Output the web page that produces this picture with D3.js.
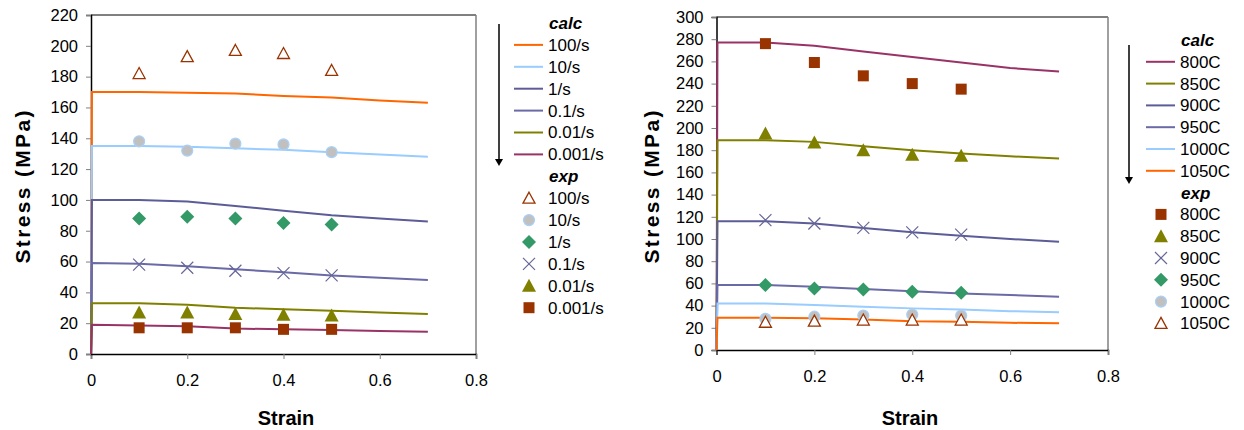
<!DOCTYPE html>
<html>
<head>
<meta charset="utf-8">
<script src="https://cdn.jsdelivr.net/npm/d3@7"></script>
<style>
  body { margin: 0; background: #fff; }
  text { font-family: "Liberation Sans", Arial, sans-serif; }
</style>
</head>
<body>
<div id="chart"></div>
<script>
// strain points for calc curves and experiments
var calcStrain = [0, 0.002, 0.1, 0.2, 0.3, 0.4, 0.5, 0.6, 0.7];
var expStrain = [0.1, 0.2, 0.3, 0.4, 0.5];

// left chart: strain rates
var rateNames = ["100/s", "10/s", "1/s", "0.1/s", "0.01/s", "0.001/s"];
var rateCalc = [
  [0, 170, 170, 169.5, 169, 167.5, 166.5, 164.5, 163],
  [0, 135, 135, 134.5, 133.5, 132.5, 131, 129.5, 128],
  [0, 100, 100, 99, 96, 93, 90, 88, 86],
  [0, 59, 58.5, 57, 55, 53, 51, 49.5, 48],
  [0, 33, 33, 32, 30, 29, 28, 27, 26],
  [0, 19, 18.5, 18, 16.5, 16, 15.5, 15, 14.5]
];
var rateExp = [
  [182, 193, 197, 195, 184],
  [138, 132, 136.5, 136, 131],
  [88, 89, 88, 85, 84],
  [58, 56, 54, 52.5, 51],
  [27, 27, 26, 25.5, 25],
  [17, 17, 17, 16, 16]
];

// right chart: temperatures
var tempNames = ["800C", "850C", "900C", "950C", "1000C", "1050C"];
var tempCalc = [
  [0, 277, 277, 274, 269, 264, 259, 254, 251],
  [0, 189, 189, 187.5, 183.5, 180, 177, 174.5, 172.5],
  [0, 116, 116, 114, 110, 106, 103, 100, 97.5],
  [0, 58.5, 58.5, 57, 55, 53, 51, 49.5, 48],
  [0, 42, 42, 40.5, 39, 37.5, 36.5, 35, 34],
  [0, 29, 29, 28.5, 27.5, 26, 25.5, 24.5, 24]
];
var tempExp = [
  [276, 259, 247, 240, 235],
  [195, 187, 180, 176, 175],
  [117, 114, 110, 106, 104],
  [58.5, 55.5, 54.5, 52.5, 51.5],
  [28, 30, 31, 32, 31],
  [25, 26, 27, 27, 27]
];

var xTicks = [0, 0.2, 0.4, 0.6, 0.8];
var leftYTicks = d3.range(0, 221, 20);
var rightYTicks = d3.range(0, 301, 20);

var svg = d3.select("#chart").append("svg")
  .attr("width", 1244)
  .attr("height", 430);

function drawChart(opt) {
  var x = d3.scaleLinear().domain([0, 0.8]).range([opt.left, opt.right]);
  var y = d3.scaleLinear().domain([0, opt.yMax]).range([opt.bottom, opt.top]);
  var g = svg.append("g");

  // plot frame: top black, right gray
  g.append("line").attr("x1", opt.left).attr("x2", opt.right)
    .attr("y1", opt.top).attr("y2", opt.top)
    .attr("stroke", "#000").attr("stroke-width", 1);
  g.append("line").attr("x1", opt.right).attr("x2", opt.right)
    .attr("y1", opt.top).attr("y2", opt.bottom)
    .attr("stroke", "#808080").attr("stroke-width", 1.5);

  var xAxis = g.append("g")
    .attr("transform", "translate(0," + opt.bottom + ")")
    .call(d3.axisBottom(x).tickValues(xTicks).tickSize(5).tickPadding(15)
      .tickFormat(function(d) { return d === 0 ? "0" : d3.format(".1f")(d); }));
  var yAxis = g.append("g")
    .attr("transform", "translate(" + opt.left + ",0)")
    .call(d3.axisLeft(y).tickValues(opt.yTicks).tickSize(5).tickPadding(8));
  [xAxis, yAxis].forEach(function(a) {
    a.select(".domain").attr("stroke", "#000").attr("stroke-width", 1.5);
    a.selectAll(".tick line").attr("stroke", "#808080");
    a.selectAll("text").style("font-size", "16.5px").attr("fill", "#000")
      .style("font-family", "Liberation Sans, Arial, sans-serif");
  });

  var line = d3.line()
    .x(function(d, i) { return x(calcStrain[i]); })
    .y(function(d) { return y(d); });

  opt.calc.forEach(function(vals, i) {
    g.append("path").datum(vals)
      .attr("d", line)
      .attr("fill", "none")
      .attr("stroke", opt.lineColors[i])
      .attr("stroke-width", 2);
  });

  opt.exp.forEach(function(vals, i) {
    g.selectAll(null).data(vals).enter().append("g")
      .attr("transform", function(d, j) { return "translate(" + x(expStrain[j]) + "," + y(d) + ")"; })
      .each(function() { drawMarker(d3.select(this), opt.markers[i]); });
  });

  // axis titles
  g.append("text")
    .attr("transform", "translate(" + opt.titleX + ",187) rotate(-90)")
    .attr("text-anchor", "middle")
    .attr("dy", "0.35em")
    .attr("textLength", 153)
    .attr("lengthAdjust", "spacing")
    .style("font-size", "21px").style("font-weight", "bold")
    .text("Stress (MPa)");
  g.append("text")
    .attr("x", opt.strainX)
    .attr("y", 418)
    .attr("text-anchor", "middle")
    .attr("dy", "0.35em")
    .style("font-size", "20px").style("font-weight", "bold")
    .text("Strain");

  // legend
  var lg = svg.append("g");
  var lx = opt.legendX, ly = opt.legendY, step = opt.legendStep;
  lg.append("line")
    .attr("x1", opt.arrowX).attr("x2", opt.arrowX)
    .attr("y1", opt.arrowTop).attr("y2", opt.arrowBottom - 6)
    .attr("stroke", "#000").attr("stroke-width", 1.5);
  lg.append("path")
    .attr("d", "M" + (opt.arrowX - 4) + "," + (opt.arrowBottom - 7) + "L" + (opt.arrowX + 4) + "," + (opt.arrowBottom - 7) + "L" + opt.arrowX + "," + opt.arrowBottom + "Z")
    .attr("fill", "#000");

  lg.append("text").attr("x", lx + 1).attr("y", ly).attr("dy", "0.35em")
    .style("font-size", "17px").style("font-weight", "bold").style("font-style", "italic")
    .text("calc");
  opt.names.forEach(function(n, i) {
    var yy = ly + step * (i + 1);
    lg.append("line").attr("x1", lx - 34).attr("x2", lx - 5)
      .attr("y1", yy).attr("y2", yy)
      .attr("stroke", opt.lineColors[i]).attr("stroke-width", 2);
    lg.append("text").attr("x", lx).attr("y", yy).attr("dy", "0.35em")
      .style("font-size", "17px").text(n);
  });
  var ey = ly + step * 7;
  lg.append("text").attr("x", lx + 1).attr("y", ey).attr("dy", "0.35em")
    .style("font-size", "17px").style("font-weight", "bold").style("font-style", "italic")
    .text("exp");
  opt.names.forEach(function(n, i) {
    var yy = ey + step * (i + 1);
    var mg = lg.append("g").attr("transform", "translate(" + (lx - 19) + "," + yy + ")");
    drawMarker(mg, opt.markers[i]);
    lg.append("text").attr("x", lx).attr("y", yy).attr("dy", "0.35em")
      .style("font-size", "17px").text(n);
  });
}

function drawMarker(sel, type) {
  if (type === "triOpen") {
    sel.append("path").attr("d", "M0,-6L6,5L-6,5Z")
      .attr("fill", "#fff").attr("stroke", "#993300").attr("stroke-width", 1.3);
  } else if (type === "triFill") {
    sel.append("path").attr("d", "M0,-7L7,6L-7,6Z").attr("fill", "#808000");
  } else if (type === "circle") {
    sel.append("circle").attr("r", 5.5)
      .attr("fill", "#c0c0c0").attr("stroke", "#a8d0f8").attr("stroke-width", 1.2);
  } else if (type === "diamond") {
    sel.append("path").attr("d", "M0,-7L7,0L0,7L-7,0Z").attr("fill", "#339966");
  } else if (type === "cross") {
    sel.append("path").attr("d", "M-6,-6L6,6M-6,6L6,-6")
      .attr("stroke", "#666699").attr("stroke-width", 1.2);
  } else if (type === "square") {
    sel.append("rect").attr("x", -5.5).attr("y", -5.5).attr("width", 11).attr("height", 11)
      .attr("fill", "#993300");
  }
}

drawChart({
  left: 91, right: 476, top: 15, bottom: 354,
  yMax: 220, yTicks: leftYTicks,
  calc: rateCalc, exp: rateExp, names: rateNames,
  lineColors: ["#ff6600", "#99ccff", "#5c5c99", "#6a6aa6", "#808000", "#993366"],
  markers: ["triOpen", "circle", "diamond", "cross", "triFill", "square"],
  titleX: 23, strainX: 286,
  legendX: 548, legendY: 23, legendStep: 21.9,
  arrowX: 499, arrowTop: 24, arrowBottom: 166
});

drawChart({
  left: 716.5, right: 1108, top: 17, bottom: 350,
  yMax: 300, yTicks: rightYTicks,
  calc: tempCalc, exp: tempExp, names: tempNames,
  lineColors: ["#993366", "#808000", "#5c5c99", "#6a6aa6", "#99ccff", "#ff6600"],
  markers: ["square", "triFill", "cross", "diamond", "circle", "triOpen"],
  titleX: 652, strainX: 910,
  legendX: 1180, legendY: 40, legendStep: 21.8,
  arrowX: 1129, arrowTop: 45, arrowBottom: 184
});
</script>
</body>
</html>
